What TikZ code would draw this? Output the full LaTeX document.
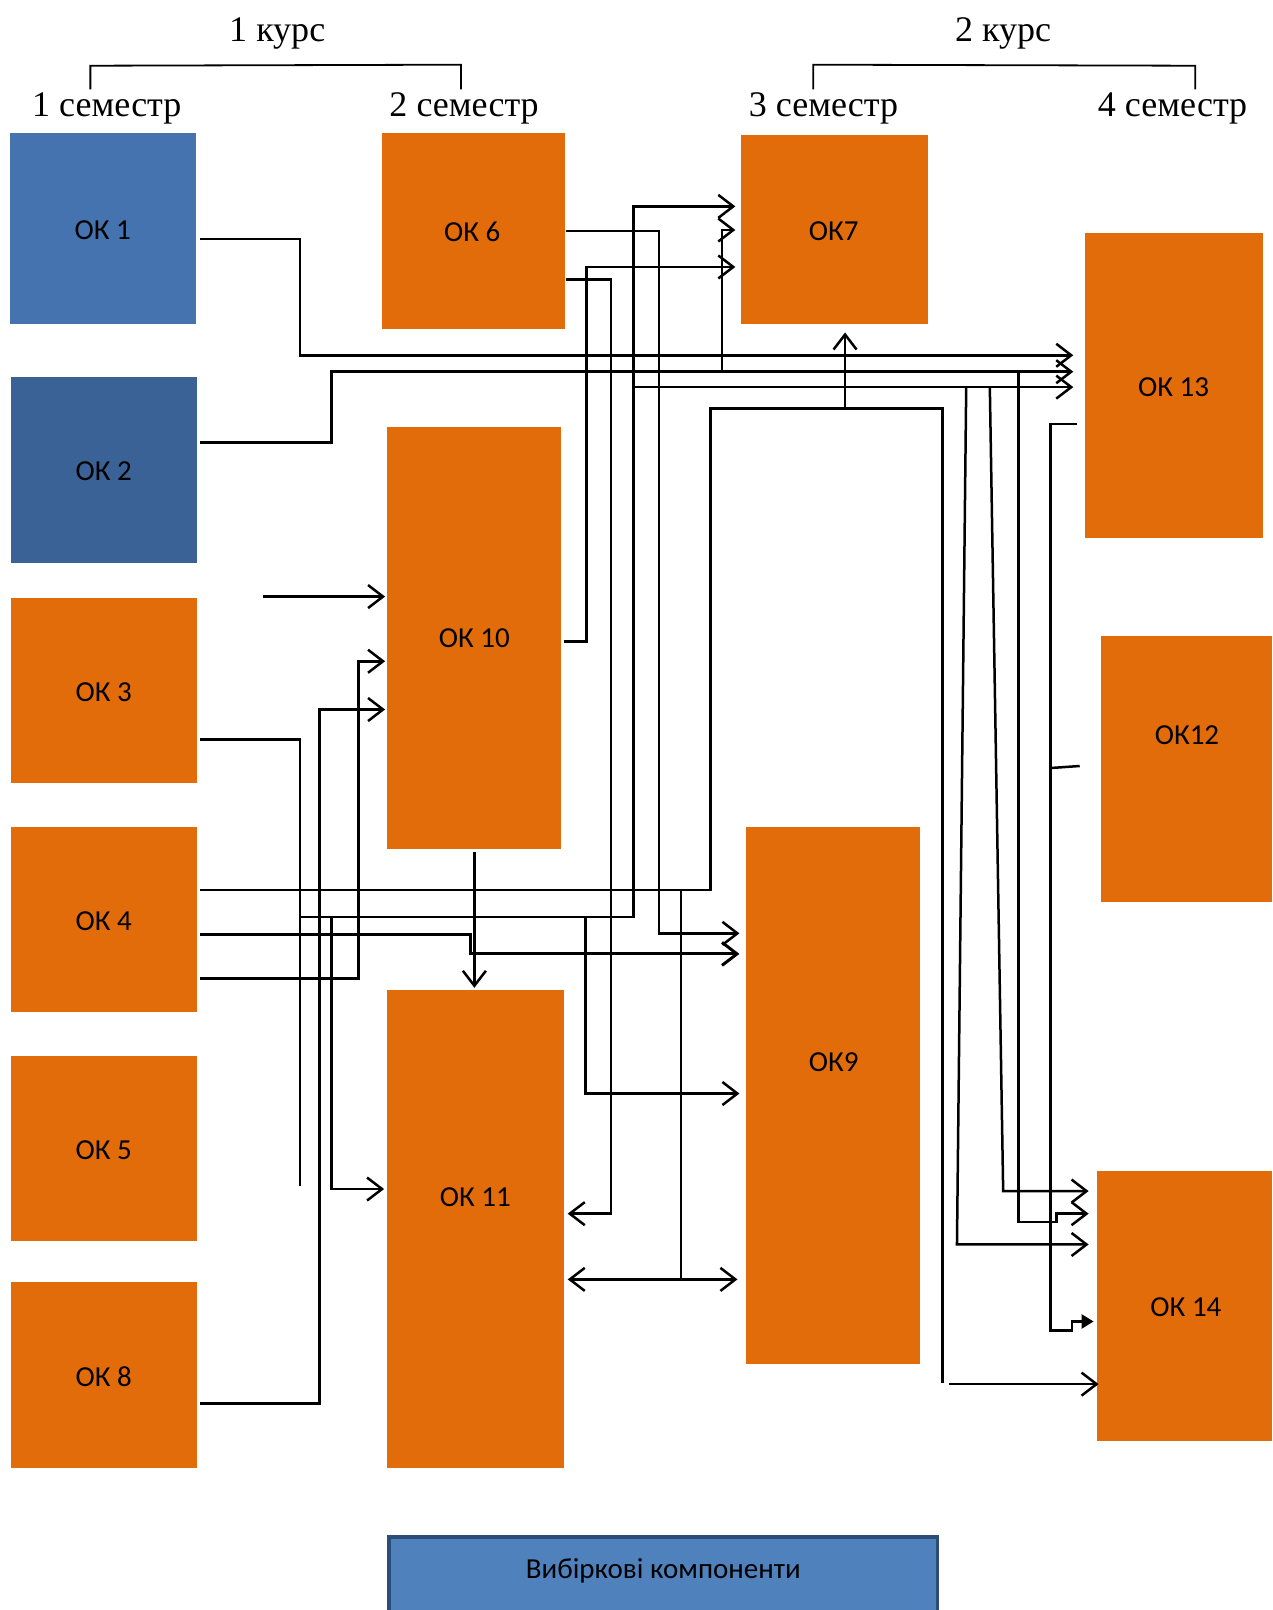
\documentclass[tikz,border=0pt]{standalone}
\usepackage{fontspec}
\setmainfont{Liberation Serif}
\newfontfamily\okfont{Carlito}
\usetikzlibrary{arrows.meta,fit}
\definecolor{okorange}{HTML}{E36C0A}
\definecolor{blueA}{HTML}{4473B0}
\definecolor{blueB}{HTML}{3A6296}
\definecolor{selfill}{HTML}{4F81BD}
\definecolor{seldraw}{HTML}{2C4D75}
\begin{document}
\begin{tikzpicture}[x=1.0266pt,y=-1.0266pt,
  okbox/.style={fill=okorange,draw=none,inner sep=0pt,outer sep=0pt},
  lbl/.style={font=\okfont\fontsize{29}{34}\selectfont,inner sep=0pt},
  hdr/.style={font=\fontsize{36}{40}\selectfont,inner sep=0pt,anchor=base},
  ln/.style={line width=2.5pt,line join=miter},
  arr/.style={ln,-{Straight Barb[length=15pt,width=23pt]}},
  dbl/.style={ln,{Straight Barb[length=15pt,width=23pt]}-{Straight Barb[length=15pt,width=23pt]}},
  tri/.style={ln,-{Triangle[length=12pt,width=14pt]}},
  brk/.style={line width=1.8pt}]
\useasboundingbox (0,0) rectangle (1239,1568);
% headers
\node[hdr] (k1) at (270,40) {1 курс};
\node[hdr] (k2) at (977,40) {2 курс};
\node[hdr] (s1) at (104,113) {1 семестр};
\node[hdr] (s2) at (452,113) {2 семестр};
\node[hdr] (s3) at (802,113) {3 семестр};
\node[hdr] (s4) at (1142,113) {4 семестр};
\draw[brk] (88,87) -- (88,64) -- (449,63) -- (449,87);
\draw[brk] (792,87) -- (792,63) -- (1164,64) -- (1164,87);
% boxes
\node[okbox,fill=blueA,fit={(10,130) (191,316)}] (ok1) {};
\node[okbox,fill=blueB,fit={(11,367) (192,548)}] (ok2) {};
\node[okbox,fit={(11,582) (192,763)}] (ok3) {};
\node[okbox,fit={(11,805) (192,986)}] (ok4) {};
\node[okbox,fit={(11,1028) (192,1209)}] (ok5) {};
\node[okbox,fit={(11,1249) (192,1430)}] (ok8) {};
\node[okbox,fit={(372,130) (550,320)}] (ok6) {};
\node[okbox,fit={(377,416) (546,827)}] (ok10) {};
\node[okbox,fit={(377,964) (549,1430)}] (ok11) {};
\node[okbox,fit={(722,131) (904,316)}] (ok7) {};
\node[okbox,fit={(727,805) (896,1328)}] (ok9) {};
\node[okbox,fit={(1057,227) (1230,524)}] (ok13) {};
\node[okbox,fit={(1072,619) (1239,878)}] (ok12) {};
\node[okbox,fit={(1068,1140) (1239,1403)}] (ok14) {};
\node[fill=selfill,draw=seldraw,line width=3.5pt,inner sep=0pt,fit={(379,1497) (913,1600)}] (sel) {};
% labels
\node[lbl] (l1) at (100,224) {ОК 1};
\node[lbl] (l2) at (101,459) {ОК 2};
\node[lbl] (l3) at (101,674) {ОК 3};
\node[lbl] (l4) at (101,897) {ОК 4};
\node[lbl] (l5) at (101,1120) {ОК 5};
\node[lbl] (l8) at (101,1341) {ОК 8};
\node[lbl] (l6) at (460,226) {ОК 6};
\node[lbl] (l10) at (462,622) {ОК 10};
\node[lbl] (l11) at (463,1166) {ОК 11};
\node[lbl] (l7) at (812,225) {ОК7};
\node[lbl] (l9) at (812,1034) {ОК9};
\node[lbl] (l13) at (1143,377) {ОК 13};
\node[lbl] (l12) at (1156,716) {ОК12};
\node[lbl] (l14) at (1155,1273) {ОК 14};
\node[lbl,font=\okfont\fontsize{29}{34}\selectfont] (selt) at (646,1530) {Вибіркові компоненти};
% connectors
\draw[arr] ([xshift=4pt]ok1.east |- 0,233) -| (292,346) -- ([xshift=-12pt]ok13.west |- 0,346);
\draw[arr] ([xshift=3pt]ok2.east |- 0,431) -| (323,362) -- ([xshift=-12pt]ok13.west |- 0,362);
\draw[arr] (703,362) -- (703,224) -- ([xshift=-6pt]ok7.west |- 0,224);
\draw[ln] ([xshift=3pt]ok3.east |- 0,720) -| (292,1155);
\draw[arr] (292,893) -| (617,201) -- ([xshift=-6pt]ok7.west |- 0,201);
\draw[arr] (617,377) -- ([xshift=-12pt]ok13.west |- 0,377);
\draw[arr] (570,893) |- ([xshift=-7pt]ok9.west |- 0,1065);
\draw[arr] (323,893) |- ([xshift=-3pt]ok11.west |- 0,1158);
\draw[ln] ([xshift=3pt]ok4.east |- 0,867) -| (692,398) -| (918,1347);
\draw[arr] (823,398) -- ([yshift=-8pt]ok7.south -| 823,0);
\draw[ln] (663,867) -- (663,1246);
\draw[dbl] ([xshift=4pt]ok11.east |- 0,1246) -- ([xshift=-9pt]ok9.west |- 0,1246);
\coordinate (c918) at (924,1348);
\draw[arr] (c918) -- ([xshift=2pt]ok14.west |- 0,1348);
\draw[arr,line width=3pt] ([xshift=3pt]ok4.east |- 0,910) -| (458,929) -- ([xshift=-7pt]ok9.west |- 0,929);
\draw[arr] ([xshift=3pt]ok4.east |- 0,953) -| (349,644) -- ([xshift=-2pt]ok10.west |- 0,644);
\coordinate (free1) at (256,581);
\draw[arr] (free1) -- ([xshift=-2pt]ok10.west |- 0,581);
\draw[arr] ([xshift=3pt]ok8.east |- 0,1367) -| (311,691) -- ([xshift=-2pt]ok10.west |- 0,691);
\draw[arr] ([yshift=-3pt]ok10.south -| 462,0) -- ([yshift=2pt]ok11.north -| 462,0);
\draw[arr] ([xshift=3pt]ok10.east |- 0,625) -| (571,260) -- ([xshift=-6pt]ok7.west |- 0,260);
\draw[arr] ([xshift=1pt]ok6.east |- 0,225) -| (642,909) -- ([xshift=-7pt]ok9.west |- 0,909);
\draw[arr] ([xshift=1pt]ok6.east |- 0,272) -| (595,1182) -- ([xshift=4pt]ok11.east |- 0,1182);
\draw[arr] (941,377) -- (932,1212) -- ([xshift=-8pt]ok14.west |- 0,1212);
\draw[arr] (964,377) -- (977,1160) -- ([xshift=-8pt]ok14.west |- 0,1160);
\draw[arr] (992,362) -- (992,1190) -- (1029,1190) -- (1029,1182) -- ([xshift=-8pt]ok14.west |- 0,1182);
\draw[tri] ([xshift=-8pt]ok13.west |- 0,413) -| (1023,1296) -- (1044,1296) -- (1044,1287) -- ([xshift=-3pt]ok14.west |- 0,1287);
\draw[ln] ([xshift=-21pt]ok12.west |- 0,746) -- (1023,748);
\end{tikzpicture}
\end{document}
